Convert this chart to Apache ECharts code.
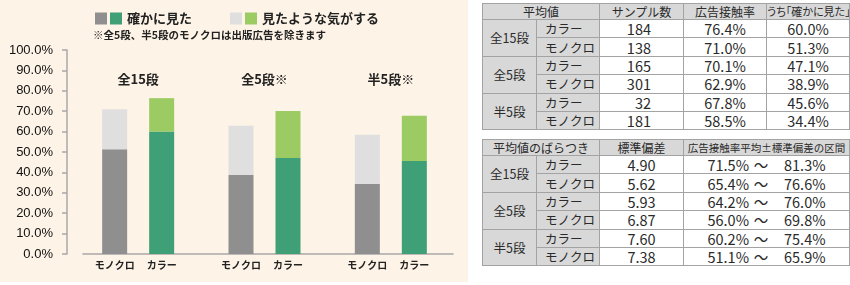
<!DOCTYPE html>
<html><head><meta charset="utf-8">
<script src="https://cdn.jsdelivr.net/npm/echarts@6/dist/echarts.min.js"></script>
<style>
html,body{margin:0;padding:0;background:#fff;width:850px;height:285px;overflow:hidden;}
#chart{position:absolute;left:0;top:0;width:468px;height:282px;}
table{position:absolute;left:482px;border-collapse:collapse;font-family:"Noto Sans CJK JP","Noto Sans",sans-serif;color:#2a2a2a;table-layout:fixed;line-height:17px;}
td,th{border:1px solid #a3a3a3;padding:0;white-space:nowrap;overflow:hidden;}
th{background:#d8d8d8;font-weight:normal;font-size:12px;height:15px;line-height:15px;text-align:center;}
td{height:17.4px;line-height:17px;}
td.g{background:#d8d8d8;font-size:12.5px;text-align:center;}
td.t{background:#d8d8d8;font-size:12.5px;text-align:left;padding-left:8px;}
td.n{background:#fff;font-size:14.5px;text-align:center;}
td.r{text-align:right;padding-right:32px;}
td.iv{text-align:left;padding-left:13px;}
.iv span{display:inline-block;}
.a{width:52px;text-align:right;}
.b{width:24px;text-align:center;}
.c{padding-left:11px;text-align:left;}
.palt{font-feature-settings:"palt";}
</style>
</head><body>
<div id="chart"></div>
<table id="t1" style="top:3px;width:367px;"></table>
<table id="t2" style="top:139px;width:367px;"></table>
<script>
// ---- chart data ----
var groups = ['全15段', '全5段※', '半5段※'];
var monoTotal = [71.0, 62.9, 58.5];
var monoClear = [51.3, 38.9, 34.4];
var colorTotal = [76.4, 70.1, 67.8];
var colorClear = [60.0, 47.1, 45.6];
var yTicks = [0,10,20,30,40,50,60,70,80,90,100];

// ---- table data ----
var blockNames = ['全15段', '全5段', '半5段'];
var typeNames = ['カラー', 'モノクロ'];
var sampleN = [184, 138, 165, 301, 32, 181];
var contactRate = ['76.4%', '71.0%', '70.1%', '62.9%', '67.8%', '58.5%'];
var clearRate = ['60.0%', '51.3%', '47.1%', '38.9%', '45.6%', '34.4%'];
var stdDev = ['4.90', '5.62', '5.93', '6.87', '7.60', '7.38'];
var rangeLow = ['71.5%', '65.4%', '64.2%', '56.0%', '60.2%', '51.1%'];
var rangeHigh = ['81.3%', '76.6%', '76.0%', '69.8%', '75.4%', '65.9%'];

var monoLight = monoTotal.map(function(v,i){return +(v - monoClear[i]).toFixed(1);});
var colorLight = colorTotal.map(function(v,i){return +(v - colorClear[i]).toFixed(1);});

var C_MONO_D = '#8f8f8f', C_MONO_L = '#dfdfdf', C_COL_D = '#3f9f76', C_COL_L = '#9ccb64';
var JP = '"Noto Sans CJK JP", "Noto Sans", sans-serif';

var chart = echarts.init(document.getElementById('chart'), null, {renderer:'canvas'});
var legendText = {fontFamily: JP, fontSize: 13, fontWeight: 'bold', color: '#222'};
chart.setOption({
  backgroundColor: '#fdf3e7',
  animation: false,
  title: {
    text: '※全5段、半5段のモノクロは出版広告を除きます',
    left: 93, top: 30, padding: 0,
    textStyle: {fontFamily: JP, fontSize: 10.5, fontWeight: 'bold', color: '#222'}
  },
  legend: [
    {data: ['モノクロ・確かに見た', 'カラー・確かに見た'], left: 95, top: 12, padding: 0,
     itemWidth: 12, itemHeight: 12, itemGap: 3, selectedMode: false, icon: 'rect',
     textStyle: legendText,
     formatter: function(n){return n.indexOf('モノクロ') === 0 ? '' : '確かに見た';}},
    {data: ['モノクロ・見たような気がする', 'カラー・見たような気がする'], left: 230, top: 12, padding: 0,
     itemWidth: 12, itemHeight: 12, itemGap: 3, selectedMode: false, icon: 'rect',
     textStyle: legendText,
     formatter: function(n){return n.indexOf('モノクロ') === 0 ? '' : '見たような気がする';}}
  ],
  grid: [
    {left: 75, right: 14, top: 50, bottom: 28},
    {left: 83, right: 15, top: 50, bottom: 28}
  ],
  xAxis: [
    {type: 'category', gridIndex: 0, data: groups, position: 'bottom',
     axisLine: {show: false}, axisTick: {show: false}, axisLabel: {show: false}},
    {type: 'category', gridIndex: 0, data: groups, position: 'top', offset: -44,
     axisLine: {show: false}, axisTick: {show: false},
     axisLabel: {show: true, margin: 8, fontFamily: JP, fontSize: 13, fontWeight: 'bold', color: '#222'}},
    {type: 'value', gridIndex: 1, min: 0, max: 1, position: 'bottom',
     axisLine: {show: true, lineStyle: {color: '#a8a8a8', width: 1.5}},
     axisTick: {show: false}, axisLabel: {show: false}, splitLine: {show: false}}
  ],
  yAxis: [
    {type: 'value', gridIndex: 0, min: yTicks[0], max: yTicks[yTicks.length-1], interval: 10, offset: 8,
     axisLine: {show: true, lineStyle: {color: '#a8a8a8', width: 1.5}},
     axisTick: {show: true, length: 5, lineStyle: {color: '#a8a8a8', width: 1.5}},
     splitLine: {show: false},
     axisLabel: {margin: 14, fontFamily: 'Liberation Sans, Arial, sans-serif', fontSize: 13, color: '#111',
       formatter: function(v){return v.toFixed(1) + '%';}}},
    {type: 'value', gridIndex: 1, min: 0, max: 1, show: false}
  ],
  series: [
    {name: 'モノクロ・確かに見た', type: 'bar', stack: 'mono', data: monoClear, barWidth: 25, barGap: '88%',
     itemStyle: {color: C_MONO_D},
     label: {show: true, position: 'bottom', distance: 6, formatter: 'モノクロ',
       fontFamily: JP, fontSize: 10, fontWeight: 'bold', color: '#222'}},
    {name: 'カラー・確かに見た', type: 'bar', stack: 'color', data: colorClear, barWidth: 25, barGap: '88%',
     itemStyle: {color: C_COL_D},
     label: {show: true, position: 'bottom', distance: 6, formatter: 'カラー',
       fontFamily: JP, fontSize: 10, fontWeight: 'bold', color: '#222'}},
    {name: 'モノクロ・見たような気がする', type: 'bar', stack: 'mono', data: monoLight, barWidth: 25, barGap: '88%',
     itemStyle: {color: C_MONO_L}},
    {name: 'カラー・見たような気がする', type: 'bar', stack: 'color', data: colorLight, barWidth: 25, barGap: '88%',
     itemStyle: {color: C_COL_L}}
  ]
});

// ---- tables ----
function build1(){
  var h = '<colgroup><col style="width:54px"><col style="width:63px"><col style="width:84px"><col style="width:83px"><col style="width:83px"></colgroup>';
  h += '<tr><th colspan="2">平均値</th><th>サンプル数</th><th>広告接触率</th><th class="palt" style="font-size:11px">うち「確かに見た」</th></tr>';
  for (var i = 0; i < 6; i++) {
    h += '<tr>';
    if (i % 2 === 0) h += '<td class="g" rowspan="2">' + blockNames[i/2] + '</td>';
    h += '<td class="t">' + typeNames[i%2] + '</td>';
    h += '<td class="n r">' + sampleN[i] + '</td>';
    h += '<td class="n">' + contactRate[i] + '</td>';
    h += '<td class="n">' + clearRate[i] + '</td></tr>';
  }
  document.getElementById('t1').innerHTML = h;
}
function build2(){
  var h = '<colgroup><col style="width:54px"><col style="width:63px"><col style="width:84px"><col style="width:166px"></colgroup>';
  h += '<tr><th colspan="2">平均値のばらつき</th><th>標準偏差</th><th style="font-size:10.5px">広告接触率平均±標準偏差の区間</th></tr>';
  for (var i = 0; i < 6; i++) {
    h += '<tr>';
    if (i % 2 === 0) h += '<td class="g" rowspan="2">' + blockNames[i/2] + '</td>';
    h += '<td class="t">' + typeNames[i%2] + '</td>';
    h += '<td class="n">' + stdDev[i] + '</td>';
    h += '<td class="n iv"><span class="a">' + rangeLow[i] + '</span><span class="b">〜</span><span class="c">' + rangeHigh[i] + '</span></td></tr>';
  }
  document.getElementById('t2').innerHTML = h;
}
build1(); build2();
</script>
</body></html>
